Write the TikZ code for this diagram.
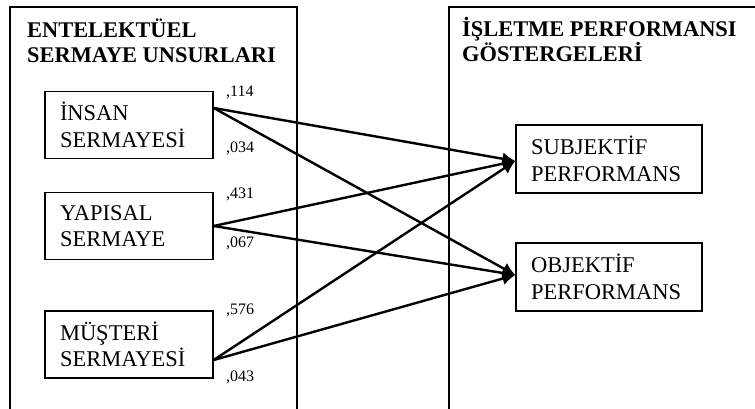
\documentclass[tikz,border=0pt]{standalone}
\usepackage{fontspec}
\setmainfont{Liberation Serif}
\usetikzlibrary{arrows.meta}
\tikzset{
  kutu/.style={draw,line width=1.4pt,rectangle,align=left,inner xsep=15pt,
    minimum height=67pt,font=\fontsize{22.5}{26.5}\selectfont},
  baslik/.style={anchor=base west,align=left,inner sep=0pt,
    font=\bfseries\fontsize{22.4}{25}\selectfont},
  katsayi/.style={anchor=west,inner sep=0pt,font=\fontsize{16}{18}\selectfont},
  ok/.style={line width=2.4pt,-{Latex[length=13pt,width=13pt]}}
}
\begin{document}
\begin{tikzpicture}[x=1pt,y=-1pt]
\useasboundingbox (0,0) rectangle (755,409);
% cerceveler
\draw[line width=1.2pt] (10,409)--(10,7)--(297,7)--(297,409);
\draw[line width=1.2pt] (449,409)--(449,7)--(755,7);
\node[baslik] (bas1) at (27,63) {ENTELEKTÜEL\\SERMAYE UNSURLARI};
\node[baslik] (bas2) at (462,62) {İŞLETME PERFORMANSI\\GÖSTERGELERİ};
% kutular
\node[kutu,text width=138pt] (ins) at (129,125) {İNSAN\\SERMAYESİ};
\node[kutu,text width=138pt] (yap) at (129,226) {YAPISAL\\SERMAYE};
\node[kutu,text width=138pt] (mus) at (129,344.5) {MÜŞTERİ\\SERMAYESİ};
\node[kutu,text width=156pt,minimum height=68pt] (sub) at (609,159) {SUBJEKTİF\\PERFORMANS};
\node[kutu,text width=156pt,minimum height=68pt] (obj) at (609,277) {OBJEKTİF\\PERFORMANS};
\coordinate (insc) at ([yshift=17pt]ins.east);
\coordinate (musc) at ([yshift=-15.5pt]mus.east);
\coordinate (subc) at ([yshift=-2pt]sub.west);
\coordinate (objc) at ([yshift=2pt]obj.west);
% oklar
\draw[ok] (insc)--(subc);
\draw[ok] (insc)--(objc);
\draw[ok] (yap.east)--(subc);
\draw[ok] (yap.east)--(objc);
\draw[ok] (musc)--(subc);
\draw[ok] (musc)--(objc);
% katsayilar
\node[katsayi] (k1) at (226,92) {,114};
\node[katsayi] (k2) at (226,148) {,034};
\node[katsayi] (k3) at (226,194) {,431};
\node[katsayi] (k4) at (226,243) {,067};
\node[katsayi] (k5) at (226,310) {,576};
\node[katsayi] (k6) at (226,377) {,043};
\end{tikzpicture}
\end{document}
